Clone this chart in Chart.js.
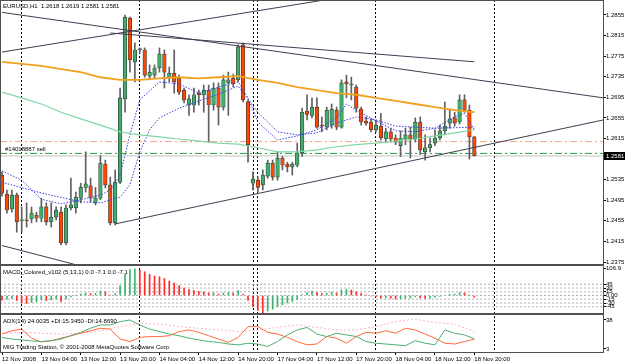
<!DOCTYPE html>
<html>
<head>
<meta charset="utf-8">
<script src="https://cdn.jsdelivr.net/npm/chart.js@4.4.1/dist/chart.umd.min.js"></script>
<style>
  html, body { margin: 0; padding: 0; background: #fff; }
  canvas { display: block; }
</style>
</head>
<body>
<canvas id="chart" width="625" height="363"></canvas>
<script>
// EURUSD H1, bar 0 = 12 Nov 2008 20:00, last bar = 18 Nov 20:00
const opens = [1.2544,1.2507,1.2478,1.2505,1.2455,1.2457,1.2459,1.2466,1.2460,1.2482,
  1.2453,1.2462,1.2472,1.2412,1.2480,1.2480,1.2499,1.2520,1.2523,1.2490,
  1.2499,1.2565,1.2525,1.2451,1.2530,1.2692,1.2849,1.2764,1.2787,1.2787,
  1.2736,1.2738,1.2752,1.2779,1.2732,1.2742,1.2732,1.2709,1.2680,1.2680,
  1.2703,1.2700,1.2709,1.2680,1.2713,1.2676,1.2723,1.2732,1.2729,1.2797,
  1.2686,1.2528,1.2534,1.2525,1.2542,1.2567,1.2540,1.2577,1.2565,1.2560,
  1.2563,1.2587,1.2668,1.2660,1.2676,1.2641,1.2637,1.2641,1.2670,1.2637,
  1.2725,1.2719,1.2715,1.2672,1.2649,1.2647,1.2632,1.2639,1.2614,1.2628,
  1.2616,1.2601,1.2614,1.2622,1.2614,1.2647,1.2589,1.2597,1.2606,1.2616,
  1.2630,1.2645,1.2655,1.2647,1.2690,1.2670,1.2618];
const highs = [1.2550,1.2515,1.2515,1.2509,1.2482,1.2490,1.2482,1.2472,1.2499,1.2490,
  1.2490,1.2482,1.2482,1.2486,1.2538,1.2511,1.2528,1.2589,1.2538,1.2520,
  1.2582,1.2573,1.2540,1.2554,1.2713,1.2855,1.2851,1.2801,1.2791,1.2791,
  1.2758,1.2758,1.2791,1.2787,1.2754,1.2787,1.2738,1.2713,1.2700,1.2713,
  1.2709,1.2719,1.2719,1.2723,1.2723,1.2738,1.2744,1.2740,1.2797,1.2801,
  1.2690,1.2550,1.2540,1.2554,1.2573,1.2573,1.2589,1.2580,1.2569,1.2569,
  1.2606,1.2674,1.2700,1.2694,1.2694,1.2657,1.2676,1.2682,1.2676,1.2729,
  1.2738,1.2734,1.2719,1.2676,1.2657,1.2653,1.2651,1.2664,1.2635,1.2635,
  1.2622,1.2630,1.2635,1.2637,1.2655,1.2657,1.2622,1.2616,1.2632,1.2641,
  1.2686,1.2670,1.2666,1.2700,1.2700,1.2680,1.2619];
const lows = [1.2503,1.2470,1.2472,1.2433,1.2433,1.2443,1.2451,1.2453,1.2453,1.2447,
  1.2443,1.2457,1.2408,1.2408,1.2476,1.2470,1.2490,1.2511,1.2492,1.2486,
  1.2496,1.2519,1.2447,1.2447,1.2527,1.2666,1.2744,1.2725,1.2781,1.2734,
  1.2729,1.2732,1.2744,1.2713,1.2725,1.2703,1.2700,1.2684,1.2660,1.2666,
  1.2680,1.2666,1.2608,1.2670,1.2641,1.2670,1.2660,1.2715,1.2725,1.2686,
  1.2569,1.2515,1.2511,1.2515,1.2538,1.2534,1.2534,1.2554,1.2550,1.2544,
  1.2560,1.2580,1.2651,1.2655,1.2635,1.2628,1.2632,1.2635,1.2632,1.2635,
  1.2694,1.2690,1.2666,1.2641,1.2641,1.2628,1.2628,1.2612,1.2608,1.2608,
  1.2603,1.2580,1.2603,1.2577,1.2608,1.2584,1.2573,1.2589,1.2601,1.2612,
  1.2622,1.2635,1.2639,1.2643,1.2666,1.2575,1.2581];
const closes = [1.2509,1.2476,1.2505,1.2453,1.2457,1.2455,1.2470,1.2460,1.2482,1.2453,
  1.2462,1.2476,1.2412,1.2480,1.2486,1.2501,1.2520,1.2527,1.2499,1.2499,
  1.2567,1.2525,1.2451,1.2530,1.2694,1.2851,1.2768,1.2787,1.2789,1.2738,
  1.2744,1.2752,1.2779,1.2744,1.2742,1.2725,1.2705,1.2690,1.2692,1.2700,
  1.2700,1.2709,1.2680,1.2713,1.2676,1.2729,1.2729,1.2721,1.2793,1.2690,
  1.2603,1.2536,1.2520,1.2544,1.2567,1.2540,1.2577,1.2563,1.2560,1.2565,
  1.2587,1.2666,1.2662,1.2676,1.2637,1.2639,1.2670,1.2672,1.2637,1.2723,
  1.2721,1.2719,1.2674,1.2647,1.2645,1.2632,1.2641,1.2616,1.2628,1.2614,
  1.2608,1.2616,1.2622,1.2614,1.2647,1.2593,1.2597,1.2603,1.2616,1.2630,
  1.2639,1.2653,1.2645,1.2690,1.2670,1.2618,1.2581];

// time axis
const tickBars = [0, 8, 16, 24, 32, 40, 48, 56, 64, 72, 80, 88, 96];
const tickLabels = ['12 Nov 2008', '13 Nov 04:00', '13 Nov 12:00', '13 Nov 20:00', '14 Nov 04:00',
  '14 Nov 12:00', '14 Nov 20:00', '17 Nov 04:00', '17 Nov 12:00', '17 Nov 20:00',
  '18 Nov 04:00', '18 Nov 12:00', '18 Nov 20:00'];
const separatorBars = [4, 28, 51.2, 52, 76, 100];
const priceTicks = [1.2855, 1.2815, 1.2775, 1.2735, 1.2695, 1.2655, 1.2615, 1.2535, 1.2495, 1.2455, 1.2415, 1.2375];

// moving averages (sampled bars)
const maOrange = [1.2764,1.2760,1.2756,1.2750,1.2744,1.2734,1.2729,1.2729,1.2732,1.2734,1.2732,1.2734,
  1.2736,1.2729,1.2723,1.2715,1.2709,1.2703,1.2700,1.2694,1.2688,1.2682,1.2676,1.2670,1.2666];
const maGreen = [1.2705,1.2694,1.2682,1.2666,1.2653,1.2641,1.2628,1.2622,1.2618,1.2614,1.2610,1.2606,
  1.2604,1.2597,1.2589,1.2589,1.2593,1.2599,1.2603,1.2606,1.2610,1.2614,1.2620,1.2626,1.2632];
const fastBars = [0,4,8,12,16,20,22,24,26,28,32,36,40,44,48,50,52,56,60,64,68,70,72,76,80,84,88,92,94,96];
const fastMa = [1.2552,1.2534,1.2497,1.2488,1.2496,1.2505,1.2515,1.2544,1.2622,1.2690,1.2725,1.2721,
  1.2703,1.2715,1.2725,1.2694,1.2647,1.2612,1.2620,1.2632,1.2655,1.2682,1.2670,1.2649,1.2630,1.2628,
  1.2635,1.2657,1.2664,1.2632];
const slowBars = [0,8,16,20,24,26,28,30,32,36,40,44,48,52,56,60,64,68,72,76,80,88,96];
const slowMa = [1.2530,1.2509,1.2492,1.2490,1.2501,1.2525,1.2589,1.2632,1.2655,1.2674,1.2688,1.2701,
  1.2717,1.2666,1.2628,1.2622,1.2626,1.2645,1.2657,1.2651,1.2639,1.2635,1.2637];

// order lines
const slLevel = 1.2609;
const orderLevel = 1.2586;
const orderLabel = '#14018887 sell';

// trend lines: [bar1, price1, bar2, price2]
const trendLines = [
  [22, 1.2820, 96, 1.2764],
  [0, 1.2860, 122.2, 1.2694],
  [0, 1.2783, 70, 1.2891],
  [0, 1.2407, 14.9, 1.2370],
  [23, 1.2449, 122.2, 1.2651]
];

// MACD_Colored (5,13,1)
const macd = [-19,-15,-12,-20,-30,-32,-28,-25,-18,-20,
  -18,-14,-24,-14,-6,0,6,10,8,9,
  18,15,2,8,40,85,104,106.9,103,95,
  85,78,75,68,58,50,40,30,24,20,
  16,14,10,11,6,10,12,10,20,5,
  -20,-45,-60,-70,-62,-55,-45,-38,-30,-24,
  -16,4,12,18,12,8,10,13,10,22,
  25,22,15,8,3,-2,-5,-10,-9,-11,
  -14,-13,-11,-10,-5,-10,-12,-11,-8,-4,
  0,5,6,12,10,2,-7.1];
const macdLevels = [45, 30, 15, 0, -15, -30, -45];
const macdTicks = [106.9, 45, 30, 15, 0, -15, -30, -45];

// ADX(14): DI every 2nd bar, ADX every 4th bar
const plusDI = [17,15,14,12.7,12,13,15,19,23,28,32,32,36,38,32,27,24,21,19,16,14,12,11,9,8,
  10,9,6,12,20,26,29,21,18,22,20,18,12,10,9,8,7,13,10,8,26,22,20,15.3];
const minusDI = [21,25,27,16,11.5,13,16,19,22,25,28,27,15,12,17,18,18,19,24,26,23,19,15,11,17,
  30,30,23,21,17,12,8,9,18,16,10,18,23,22,25,22,28,26,21,16,10,9,12,14.9];
const adx = [22,23,22,21,22,25,30,34,33,30,28,26,24,26,29,32,29,26,26,30,36,39,35,33,24];
const adxTicks = [38, 3];

const X_MIN = -0.41, X_MAX = 122.15;
const FONT = "'Liberation Sans',Arial,sans-serif";
const n = closes.length;
const GREEN = '#3fae6a', RED = '#ff4500';

const sampled = (arr, step) => arr.map((v, k) => ({x: k * step, y: v}));
const paired = (xs, ys) => xs.map((x, k) => ({x: x, y: ys[k]}));
const hline = v => [{x: X_MIN, y: v}, {x: X_MAX, y: v}];

function line(data, color, width, dash, axis, order) {
  return {
    type: 'line', data: data, xAxisID: 'x', yAxisID: axis,
    borderColor: color, borderWidth: width, borderDash: dash,
    pointRadius: 0, fill: false, tension: 0, order: order
  };
}

const datasets = [
  {
    type: 'bar', xAxisID: 'x', yAxisID: 'yPrice', order: 6, grouped: false,
    data: lows.map((l, i) => ({x: i, y: [l, highs[i]]})),
    backgroundColor: '#606060', barThickness: 1
  },
  {
    type: 'bar', xAxisID: 'x', yAxisID: 'yPrice', order: 5, grouped: false,
    data: opens.map((o, i) => ({x: i, y: [o, closes[i]]})),
    backgroundColor: c => closes[c.dataIndex] >= opens[c.dataIndex] ? GREEN : RED,
    borderColor: '#3a3a3a', borderWidth: 0.7, borderSkipped: false,
    barThickness: 3.6, minBarLength: 1
  },
  {
    type: 'bar', xAxisID: 'x', yAxisID: 'yMacd', order: 5, grouped: false,
    data: macd.map((v, i) => ({x: i, y: v})),
    backgroundColor: c => (c.dataIndex > 0 && macd[c.dataIndex] > macd[c.dataIndex - 1]) ? '#3cb371' : '#ff2a2a',
    barThickness: 1
  },
  line(hline(slLevel), '#f5a585', 1, [7, 3, 2, 3], 'yPrice', 8),
  line(hline(orderLevel), '#2f9a45', 1, [7, 3, 2, 3], 'yPrice', 8),
  line(hline(closes[n - 1]), '#c4c4c4', 1, [], 'yPrice', 8),
  line(sampled(maGreen, 4), '#7fd6a6', 1.2, [], 'yPrice', 2),
  line(sampled(maOrange, 4), '#f2a11f', 1.8, [], 'yPrice', 2),
  line(paired(fastBars, fastMa), '#3f3fe0', 1, [1.5, 1.5], 'yPrice', 2),
  line(paired(slowBars, slowMa), '#3f3fe0', 1, [1.5, 1.5], 'yPrice', 2)
];
trendLines.forEach(t => {
  datasets.push(line([{x: t[0], y: t[1]}, {x: t[2], y: t[3]}], '#3e3e52', 1, [], 'yPrice', 1));
});
macdLevels.forEach(v => datasets.push(line(hline(v), '#b4b4b4', 1, [2, 2], 'yMacd', 7)));
datasets.push(line(sampled(adx, 4), '#ffb3c0', 1, [2, 2], 'yAdx', 3));
datasets.push(line(sampled(plusDI, 2), '#4cae72', 1, [], 'yAdx', 2));
datasets.push(line(sampled(minusDI, 2), '#ff6a3d', 1, [], 'yAdx', 2));

const tickFont = {family: FONT, size: 6};

function rightAxis(weight, min, max, ticks, fmt) {
  return {
    type: 'linear', position: 'right', stack: 'panes', stackWeight: weight,
    min: min, max: max,
    afterBuildTicks: s => { s.ticks = ticks.map(v => ({value: v})); },
    afterFit: s => { s.width = 22; s.paddingTop = 0; s.paddingBottom = 0; },
    ticks: {autoSkip: false, padding: 0, color: '#000', font: tickFont, callback: fmt},
    grid: {drawOnChartArea: false, drawTicks: true, tickLength: 3, color: '#000'},
    border: {display: true, color: '#505050'}
  };
}

const overlay = {
  id: 'overlay',
  afterDraw(chart) {
    const {ctx, chartArea: a, scales} = chart;
    const yP = scales.yPrice, yM = scales.yMacd, yA = scales.yAdx;
    ctx.save();
    // frame and pane separators
    ctx.strokeStyle = '#505050';
    ctx.lineWidth = 1;
    ctx.beginPath();
    ctx.moveTo(a.left + 0.5, a.top); ctx.lineTo(a.left + 0.5, a.bottom);
    ctx.moveTo(a.left, a.top + 0.5); ctx.lineTo(a.right, a.top + 0.5);
    ctx.stroke();
    ctx.lineWidth = 2;
    ctx.beginPath();
    ctx.moveTo(a.left, yM.top); ctx.lineTo(a.right, yM.top);
    ctx.moveTo(a.left, yA.top); ctx.lineTo(a.right, yA.top);
    ctx.stroke();

    // texts
    ctx.fillStyle = '#000';
    ctx.font = '6px ' + FONT;
    ctx.textBaseline = 'alphabetic';
    ctx.textAlign = 'left';
    const last = n - 1;
    ctx.fillText('EURUSD,H1  ' + [opens[last], highs[last], lows[last], closes[last]].map(v => v.toFixed(4)).join(' '), 3, 8);
    ctx.fillText(orderLabel, 5, yP.getPixelForValue(orderLevel) - 2);
    ctx.fillText('MACD_Colored_v102 (5,13,1) 0.0 ' + macd[last].toFixed(1) + ' 0.0 ' + macd[last].toFixed(1), 3, yM.top + 9);
    ctx.fillText('ADX(14) 24.0035 +DI:15.3450 -DI:14.8690', 3, yA.top + 9);
    ctx.fillText('MIG Trading Station, \u00a9 2001-2008 MetaQuotes Software Corp.', 3, yA.bottom - 3);

    // current price marker on the axis
    const py = Math.round(yP.getPixelForValue(closes[last]));
    ctx.fillStyle = '#000';
    ctx.fillRect(yP.left + 1, py - 4, 22, 8);
    ctx.fillStyle = '#fff';
    ctx.textBaseline = 'middle';
    ctx.fillText(closes[last].toFixed(4), yP.left + 3, py + 0.5);
    ctx.restore();
  }
};

new Chart(document.getElementById('chart').getContext('2d'), {
  type: 'bar',
  data: {datasets: datasets},
  options: {
    responsive: false,
    animation: false,
    events: [],
    layout: {padding: 0},
    plugins: {legend: {display: false}, tooltip: {enabled: false}},
    scales: {
      x: {
        type: 'linear', position: 'bottom', min: X_MIN, max: X_MAX, offset: false,
        afterBuildTicks: s => { s.ticks = tickBars.map(v => ({value: v})); },
        afterFit: s => { s.height = 11; s.paddingLeft = 0; s.paddingRight = 0; },
        ticks: {autoSkip: false, maxRotation: 0, align: 'start', padding: 1, color: '#000',
          font: tickFont, callback: (v, i) => tickLabels[i]},
        grid: {drawOnChartArea: false, drawTicks: true, tickLength: 3, color: '#000', offset: false},
        border: {display: true, color: '#505050'}
      },
      xSep: {
        type: 'linear', position: 'top', min: X_MIN, max: X_MAX, offset: false,
        afterBuildTicks: s => { s.ticks = separatorBars.map(v => ({value: v})); },
        afterFit: s => { s.height = 0; s.paddingLeft = 0; s.paddingRight = 0; },
        ticks: {display: false},
        grid: {drawOnChartArea: true, drawTicks: false, color: '#000', lineWidth: 1, offset: false},
        border: {display: false, dash: [2, 2]}
      },
      yPrice: rightAxis(265, 1.23692, 1.28841, priceTicks, v => v.toFixed(4)),
      yMacd: rightAxis(49, -74, 122, macdTicks, v => v === 0 ? '0.00' : String(v)),
      yAdx: rightAxis(38, -0.62, 45.2, adxTicks, v => String(v))
    }
  },
  plugins: [overlay]
});
</script>
</body>
</html>
